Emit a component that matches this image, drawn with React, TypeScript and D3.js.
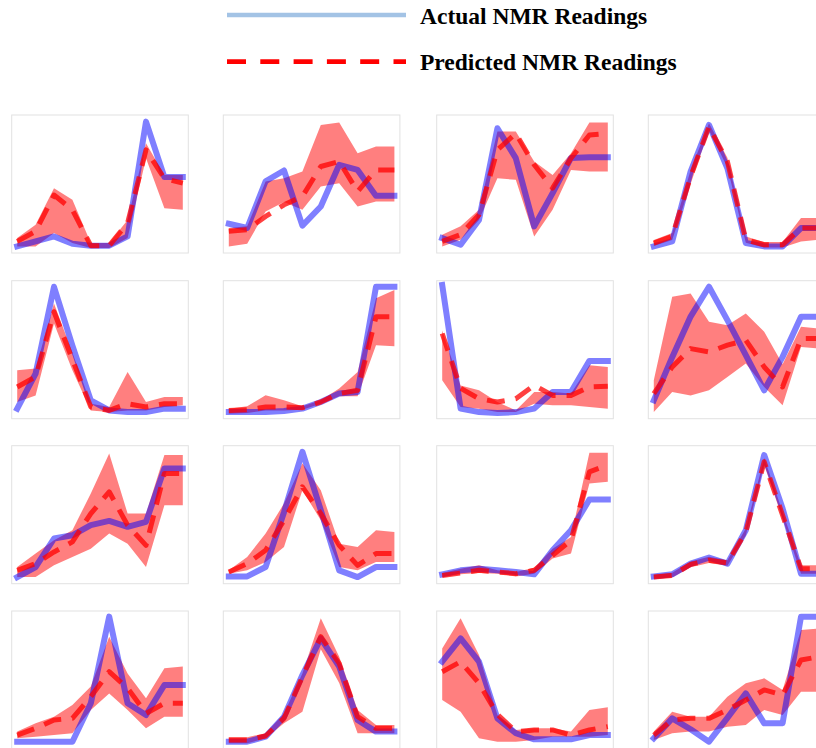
import React from 'react';
import * as d3 from 'd3';

// Legend labels
const legendLabels = ['Actual NMR Readings', 'Predicted NMR Readings'];

// Sample positions along each panel's x axis
const steps = [0, 1, 2, 3, 4, 5, 6, 7, 8, 9];

// Normalised readings (0-100) per panel, read row by row
const actual: number[][] = [
  [4.8, 8.4, 12, 6.7, 5.3, 5.3, 12, 95.2, 55, 55],
  [21.2, 18.1, 52, 59.8, 19.8, 33.7, 63.9, 60.2, 41.4, 41.4],
  [10.8, 6, 24, 90.4, 68.7, 19.3, 43.4, 68.9, 69.4, 69.4],
  [4.8, 8.4, 59, 92.8, 61.4, 7.2, 4.8, 4.8, 18.1, 18.1],
  [7.3, 32.7, 95.6, 53, 13.3, 6, 4.8, 4.8, 7.3, 7.3],
  [4.8, 4.8, 4.8, 5.6, 7.3, 12.1, 18.2, 19.4, 95.6, 95.6],
  [96.9, 7.3, 4.8, 4.1, 4.8, 7.3, 19.4, 19.4, 41.9, 41.9],
  [13.3, 44.6, 74, 95.6, 71.4, 46, 20.6, 44.8, 73.8, 73.8],
  [4.8, 12.1, 32.7, 35.1, 42.4, 45.5, 41.2, 44.8, 83.5, 83.5],
  [5.3, 5.3, 12.1, 51.8, 95.6, 53.3, 9.7, 4.8, 12.1, 12.1],
  [6.8, 9.7, 10.9, 9.7, 8.5, 6.8, 24.2, 38.7, 61, 61],
  [5.3, 6.8, 14.5, 18.9, 14.5, 38.7, 93.2, 54.5, 7.3, 7.3],
  [5.3, 5.3, 5.3, 5.3, 33.1, 95.9, 33.1, 24.6, 46.4, 46.4],
  [5.3, 5.3, 8.9, 23.4, 53.6, 80.2, 59.7, 21, 12.6, 12.6],
  [63.3, 80.2, 63.3, 22.2, 11.4, 7, 7, 7, 10.1, 10.1],
  [7.7, 22.2, 14.3, 5.3, 22.5, 40.3, 18.6, 18.6, 95.9, 95.9],
];

const predicted: number[][] = [
  [8.4, 15.7, 42, 31.3, 5.3, 5.3, 21.7, 74.7, 54, 50.6],
  [15.7, 16.9, 26.5, 34.9, 41, 62.7, 66.3, 44.6, 60.2, 60.2],
  [8.4, 13.3, 27.7, 74.7, 86.7, 63.9, 47, 68.7, 85.5, 86.7],
  [7.2, 12, 55.4, 91.6, 66.3, 9.6, 6, 6, 18.1, 18.1],
  [23, 30.3, 77.5, 43, 8.5, 6, 10.9, 8.5, 10.9, 10.9],
  [6, 6.5, 8.5, 8.5, 8, 12.1, 18.2, 20.6, 73.8, 73.8],
  [61.7, 22, 14.5, 12.1, 14.5, 24.2, 16.9, 16.9, 23, 23.5],
  [18.2, 37.5, 50.8, 48.4, 53.3, 56.9, 37.5, 23, 58.1, 58.1],
  [9.7, 14.5, 23, 30.3, 50.8, 66.6, 42.4, 27.8, 79.9, 79.9],
  [8.5, 14.5, 24.2, 46, 70.2, 50.8, 27.8, 13.3, 21.8, 21.8],
  [6, 7.7, 9.7, 8.5, 7.3, 9.7, 20.6, 31.5, 81.1, 86],
  [4.8, 6, 14, 17, 15, 37.5, 88.4, 49.6, 10.9, 10.9],
  [10.1, 15, 21, 22.2, 37.9, 56, 44, 25.8, 33.1, 33.1],
  [6.5, 6.5, 9.4, 22.2, 52.4, 81.4, 62.1, 23.4, 15, 15],
  [56, 63.3, 47.6, 25, 12.6, 13.8, 13.8, 10.1, 13.8, 16.2],
  [10.1, 21, 22.2, 22.2, 28.3, 35.5, 42.8, 39.1, 64.5, 66.9],
];

const upper: number[][] = [
  [10.8, 20.5, 47, 38.6, 7.2, 7.2, 24, 79.5, 56.6, 56.6],
  [18.1, 19.3, 51.8, 54.2, 59, 92.8, 94.5, 72.3, 77.1, 77.1],
  [13.3, 19.3, 31.3, 88, 88, 66.3, 56.6, 72.3, 94.5, 94.5],
  [9.5, 14.5, 60, 94, 69, 12, 8, 8, 25.3, 25.3],
  [35.1, 36.3, 83.5, 47.9, 10.9, 8.5, 33.9, 12.1, 15.7, 15.7],
  [7.3, 9, 17, 13.3, 9, 13.3, 21.8, 33.9, 87.2, 93.2],
  [63.9, 24, 20.6, 12.1, 6, 19.4, 19.4, 18.2, 38.7, 37.5],
  [27.8, 88.4, 90.8, 70.2, 67.8, 76.3, 63, 39.5, 66.6, 65.4],
  [12.1, 21.8, 31.5, 38.7, 65.4, 94.4, 50.8, 50.8, 93.2, 93.2],
  [9.7, 19.4, 36.3, 58.1, 87.2, 67.8, 29, 26.6, 38.7, 37.5],
  [7.7, 10.9, 13.3, 9.7, 8.5, 11.6, 25.4, 33.9, 94.9, 94.9],
  [6.5, 8, 16, 19.5, 17, 40, 91, 52, 13.3, 13.3],
  [12.6, 18.6, 23.4, 31.9, 45.2, 81.4, 54.8, 36.7, 58.5, 59.7],
  [8.5, 8.5, 11.4, 25.8, 54.8, 94.7, 66.9, 28.3, 17.4, 17.4],
  [72.9, 94.7, 68.1, 24.6, 13.8, 15, 15, 12.6, 28.3, 30.2],
  [12.6, 27, 23.4, 23.4, 37.9, 47.6, 51.2, 42.8, 86.2, 87.4],
];

const lower: number[][] = [
  [4.8, 4.8, 14.5, 7.2, 3.6, 3.6, 10.8, 68.7, 32.5, 31.3],
  [4.8, 6.7, 30, 37, 31.3, 48.2, 50.6, 33.7, 37.3, 37.3],
  [4.8, 9.6, 24, 54.2, 53, 12, 31.3, 60.2, 59, 59],
  [5, 9.5, 50, 89, 62, 7.5, 4, 4, 8.4, 9.6],
  [12.1, 16.9, 69, 35.1, 6, 4.8, 6, 6, 8.5, 9.7],
  [3.6, 4.1, 6, 6, 6.5, 10.9, 16.2, 16.2, 53.3, 52.5],
  [27.8, 8.5, 7.3, 4.8, 4.8, 10.9, 9.7, 9.7, 8.5, 7.3],
  [4.8, 19.4, 16.9, 20.6, 30.3, 40, 23, 9.7, 52, 50.8],
  [4.8, 4.8, 13.3, 19.4, 25.4, 36.3, 29, 12.1, 56.9, 56.9],
  [7.3, 9.7, 15.7, 26.6, 67.8, 46, 12.1, 9.7, 15.7, 15.7],
  [4.8, 6.8, 7.7, 7.3, 5.3, 7.3, 18.2, 21.8, 72.6, 73.8],
  [3.6, 4.5, 12, 15, 13, 35, 86, 47, 7.2, 7.2],
  [7.7, 8.9, 10.1, 11.4, 28.3, 40.3, 28.3, 15, 23.4, 23.4],
  [4.1, 4.1, 7.7, 18.6, 27, 72.2, 47.8, 11.4, 11.4, 11.4],
  [35.5, 27, 7.7, 5.3, 5.3, 6.5, 8.9, 8.9, 8.9, 10.1],
  [6.5, 11.4, 12.6, 12.6, 16.2, 17.4, 28.3, 24.6, 41.5, 41.5],
];

// Layout
const W = 816;
const H = 748;
const colX = [11.7, 223.3, 436.7, 648.3];
const rowY = [115, 280.7, 445.7, 611];
const PW = 176.6;
const PH = 138;
const XPAD = 5.5;

const BLUE = '#0000ff';
const RED = '#ff0000';

function Panel({ idx }: { idx: number }) {
  const c = idx % 4;
  const r = Math.floor(idx / 4);
  const left = colX[c];
  const top = rowY[r];
  const x = d3
    .scaleLinear()
    .domain(d3.extent(steps) as [number, number])
    .range([left + XPAD, left + PW - XPAD]);
  const y = d3.scaleLinear().domain([0, 100]).range([top + PH, top]);

  const rows = steps.map((s, i) => ({
    s,
    a: actual[idx][i],
    p: predicted[idx][i],
    lo: lower[idx][i],
    hi: upper[idx][i],
  }));

  const area = d3
    .area<(typeof rows)[number]>()
    .x((d) => x(d.s))
    .y0((d) => y(d.lo))
    .y1((d) => y(d.hi));
  const lineA = d3
    .line<(typeof rows)[number]>()
    .x((d) => x(d.s))
    .y((d) => y(d.a));
  const lineP = d3
    .line<(typeof rows)[number]>()
    .x((d) => x(d.s))
    .y((d) => y(d.p));

  return (
    <g>
      <rect x={left} y={top} width={PW} height={PH} fill="#ffffff" stroke="#e2e2e2" strokeWidth={1} />
      <path d={area(rows) || ''} fill={RED} fillOpacity={0.5} stroke="none" />
      <path
        d={lineA(rows) || ''}
        fill="none"
        stroke={BLUE}
        strokeOpacity={0.5}
        strokeWidth={6}
        strokeLinejoin="round"
        strokeLinecap="square"
      />
      <path
        d={lineP(rows) || ''}
        fill="none"
        stroke={RED}
        strokeOpacity={0.75}
        strokeWidth={5}
        strokeDasharray="18,11"
        strokeLinejoin="round"
      />
    </g>
  );
}

export default function App() {
  const legendFont = '"Liberation Serif", "Times New Roman", Times, serif';
  return (
    <svg
      width={W}
      height={H}
      viewBox={`0 0 ${W} ${H}`}
      style={{ position: 'absolute', left: 0, top: 0, background: '#ffffff' }}
    >
      <rect x={0} y={0} width={W} height={H} fill="#ffffff" />
      <g>
        <line x1={227} x2={406} y1={15} y2={15} stroke="#a3c3e5" strokeWidth={4.7} />
        <text
          x={420}
          y={23.5}
          fontFamily={legendFont}
          fontWeight="bold"
          fontSize={23.5}
          fill="#000"
        >
          {legendLabels[0]}
        </text>
        <line
          x1={227}
          x2={406}
          y1={61.7}
          y2={61.7}
          stroke={RED}
          strokeWidth={4.7}
          strokeDasharray="19,14.3"
        />
        <text
          x={420}
          y={70}
          fontFamily={legendFont}
          fontWeight="bold"
          fontSize={23.5}
          fill="#000"
        >
          {legendLabels[1]}
        </text>
      </g>
      {actual.map((_, i) => (
        <Panel key={i} idx={i} />
      ))}
    </svg>
  );
}
